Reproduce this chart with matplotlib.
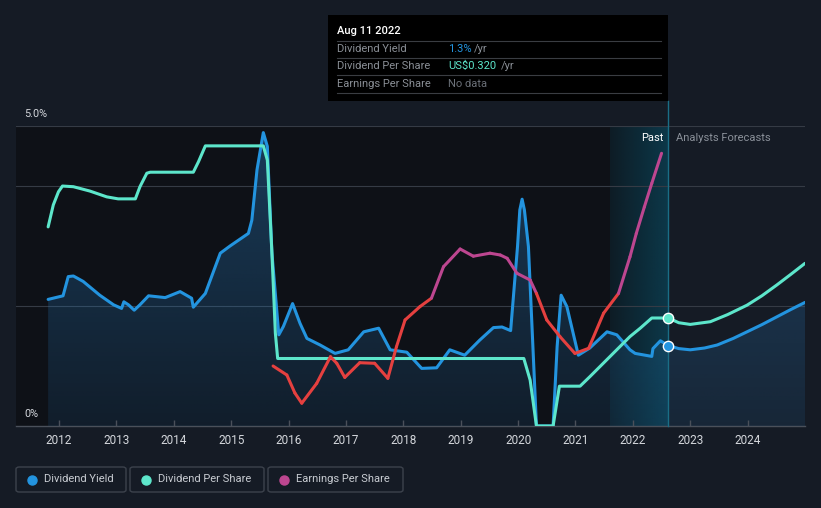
import numpy as np
import matplotlib
matplotlib.use("Agg")
import matplotlib.pyplot as plt
from matplotlib.patches import Rectangle, FancyBboxPatch
from matplotlib.collections import LineCollection
from matplotlib.colors import to_rgb

plt.rcParams['font.family'] = ['Roboto', 'DejaVu Sans']

# ---- data ----
yield_years = [2011.81, 2012.07, 2012.16, 2012.25, 2012.42, 2012.71, 2012.95, 2013.09, 2013.13,
               2013.21, 2013.31, 2013.41, 2013.56, 2013.85, 2014.11, 2014.31, 2014.34, 2014.55,
               2014.81, 2014.98, 2015.30, 2015.36, 2015.45, 2015.56, 2015.63, 2015.71, 2015.83,
               2015.91, 2016.07, 2016.2, 2016.32, 2016.55, 2016.81, 2017.04, 2017.31, 2017.57,
               2017.77, 2018.06, 2018.32, 2018.58, 2018.81, 2019.07, 2019.33, 2019.57, 2019.72,
               2019.87, 2019.99, 2020.03, 2020.07, 2020.11, 2020.18, 2020.32, 2020.61, 2020.68,
               2020.75, 2020.85, 2021.05, 2021.25, 2021.55, 2021.72, 2021.95, 2022.04, 2022.33,
               2022.35, 2022.48, 2022.62]
yield_vals = [2.11, 2.17, 2.49, 2.50, 2.41, 2.18, 2.02, 1.96, 2.07,
              2.02, 1.93, 2.02, 2.17, 2.14, 2.24, 2.13, 1.98, 2.21,
              2.88, 3.00, 3.21, 3.43, 4.27, 4.89, 4.66, 2.88, 1.52,
              1.66, 2.04, 1.71, 1.46, 1.35, 1.21, 1.27, 1.57, 1.63,
              1.27, 1.23, 0.96, 0.97, 1.27, 1.18, 1.43, 1.64, 1.65,
              1.59, 2.99, 3.60, 3.78, 3.60, 2.99, 0.0, 0.0, 1.32,
              2.18, 1.99, 1.18, 1.30, 1.57, 1.52, 1.27, 1.21, 1.16,
              1.29, 1.42, 1.34]
yield_fc_years = [2022.62, 2022.8, 2023.0, 2023.25, 2023.47, 2023.75, 2023.99, 2024.25, 2024.51, 2024.75, 2025.0]
yield_fc_vals = [1.34, 1.29, 1.27, 1.30, 1.35, 1.46, 1.57, 1.69, 1.82, 1.94, 2.06]

dps_years = [2011.81, 2011.90, 2011.99, 2012.06, 2012.25, 2012.54, 2012.83, 2013.03, 2013.33,
             2013.41, 2013.53, 2013.59, 2014.34, 2014.43, 2014.55, 2015.56, 2015.63, 2015.71,
             2015.77, 2015.81, 2020.10, 2020.21, 2020.32, 2020.61, 2020.72, 2021.08, 2021.25,
             2021.95, 2022.13, 2022.33, 2022.62]
dps_vals = [0.59, 0.655, 0.694, 0.711, 0.709, 0.696, 0.679, 0.673, 0.673,
            0.709, 0.749, 0.752, 0.752, 0.783, 0.83, 0.83, 0.788, 0.512,
            0.275, 0.20, 0.20, 0.136, 0.0, 0.0, 0.118, 0.118, 0.146,
            0.265, 0.29, 0.32, 0.32]
dps_fc_years = [2022.62, 2022.8, 2023.0, 2023.35, 2023.65, 2023.99, 2024.25, 2024.51, 2024.75, 2025.0]
dps_fc_vals = [0.32, 0.306, 0.301, 0.309, 0.33, 0.358, 0.386, 0.418, 0.449, 0.482]

eps_years = [2015.73, 2015.97, 2016.11, 2016.23, 2016.49, 2016.73, 2016.84, 2016.98, 2017.24,
             2017.50, 2017.73, 2017.88, 2018.03, 2018.29, 2018.49, 2018.70, 2018.99, 2019.22,
             2019.51, 2019.69, 2019.81, 2019.98, 2020.21, 2020.32, 2020.50, 2020.73, 2020.99,
             2021.23, 2021.49, 2021.75, 2021.95, 2022.06, 2022.20, 2022.33, 2022.50]
eps_vals = [0.100, 0.085, 0.055, 0.038, 0.071, 0.1155, 0.1045, 0.081, 0.1055,
            0.1045, 0.0795, 0.132, 0.1767, 0.199, 0.213, 0.2655, 0.295, 0.283,
            0.288, 0.285, 0.2795, 0.2545, 0.2433, 0.221, 0.1767, 0.149, 0.121,
            0.1295, 0.188, 0.221, 0.282, 0.321, 0.365, 0.4045, 0.4545]
# EPS line colour flips at these dates (starts red)
eps_color_breaks = [2018.49, 2020.32, 2021.75]

x_ticks = [2012, 2013, 2014, 2015, 2016, 2017, 2018, 2019, 2020, 2021, 2022, 2023, 2024]
today = 2022.62
band_start = 2021.61

# ---- colours ----
BG = '#151b25'
PAST_BG = '#0e1117'
BLUE = '#2394df'
TEAL = '#5de6cb'
RED = '#e5403f'
MAGENTA = '#bd4690'

W, H = 821, 508
fig = plt.figure(figsize=(W / 100, H / 100), dpi=100, facecolor=BG)
L, R, T, B = 16, 805, 126, 426
ax = fig.add_axes([L / W, 1 - B / H, (R - L) / W, (B - T) / H])
ax.set_facecolor(BG)
xmin, xmax = 2011.25, 2025.0

ax_dps = ax.twinx()
ax_eps = ax.twinx()
for a in (ax, ax_dps, ax_eps):
    for s in a.spines.values():
        s.set_visible(False)
    a.set_yticks([])

# backgrounds
ax.axvspan(xmin, today, color=PAST_BG, zorder=0, lw=0)
band = np.zeros((2, 64, 4))
band[..., :3] = to_rgb('#0c3f52')
band[..., 3] = np.linspace(0.25, 0.85, 64)
ax.imshow(band, extent=[band_start, today, 0, 5], aspect='auto', zorder=0.5, interpolation='bilinear')

# grid lines
for g in (5, 4, 2):
    ax.axhline(g, color='#353b45', lw=0.8, zorder=1)
ax.axhline(0, color='#4a505a', lw=1.0, zorder=1, clip_on=False)

# yield area with vertical gradient
all_y_years = yield_years + yield_fc_years[1:]
all_y_vals = yield_vals + yield_fc_vals[1:]
poly = ax.fill_between(all_y_years, all_y_vals, 0, facecolor='none', lw=0)
grad = np.zeros((64, 2, 4))
grad[..., :3] = to_rgb('#2a7fc4')
grad[..., 3] = np.linspace(0.38, 0.12, 64)[:, None]
im = ax.imshow(grad, extent=[all_y_years[0], all_y_years[-1], 0, max(all_y_vals)],
               aspect='auto', zorder=1.5, interpolation='bilinear')
im.set_clip_path(poly.get_paths()[0], transform=ax.transData)

# lines
ax.plot(yield_years, yield_vals, color=BLUE, lw=2.2, zorder=4, solid_capstyle='round', solid_joinstyle='round')
ax.plot(yield_fc_years, yield_fc_vals, color=BLUE, lw=2.2, zorder=4, solid_capstyle='round')
ax_dps.plot(dps_years, dps_vals, color=TEAL, lw=2.2, zorder=5, solid_capstyle='round', solid_joinstyle='round')
ax_dps.plot(dps_fc_years, dps_fc_vals, color=TEAL, lw=2.2, zorder=5, solid_capstyle='round')

segs, cols = [], []
for i in range(len(eps_years) - 1):
    mid = (eps_years[i] + eps_years[i + 1]) / 2
    flips = sum(1 for b in eps_color_breaks if mid > b)
    segs.append([(eps_years[i], eps_vals[i]), (eps_years[i + 1], eps_vals[i + 1])])
    cols.append(RED if flips % 2 == 0 else MAGENTA)
lc = LineCollection(segs, colors=cols, linewidths=2.2, capstyle='round', joinstyle='round', zorder=3)
ax_eps.add_collection(lc)

# markers at today
ax_dps.scatter([dps_years[-1]], [dps_vals[-1]], s=55, color=TEAL, edgecolor='white', lw=1, zorder=8)
ax.scatter([yield_years[-1]], [yield_vals[-1]], s=55, color=BLUE, edgecolor='white', lw=1, zorder=8)

for a in (ax, ax_dps, ax_eps):
    a.set_xlim(xmin, xmax)
ax.set_ylim(0, 5)
ax_dps.set_ylim(0, 300 / 337.5)
ax_eps.set_ylim(0, 0.5)

# vertical "today" line up to the tooltip
ax.axvline(today, ymin=0, ymax=(B - 101) / (B - T), color='#1a6e86', lw=1, zorder=2, clip_on=False)

# x ticks
ax.set_xticks(x_ticks)
ax.set_xticklabels([str(t) for t in x_ticks])
ax.tick_params(axis='x', colors='#4a505a', labelcolor='#d4d7dc', labelsize=8.5, length=4, width=1,
               direction='in', pad=6)
ax_dps.tick_params(axis='x', bottom=False, labelbottom=False)
ax_eps.tick_params(axis='x', bottom=False, labelbottom=False)

def fx(px):
    return px / W

def fy(py):
    return 1 - py / H

fig.text(fx(24), fy(114), '5.0%', color='#d4d7dc', fontsize=7.8, va='center', ha='left')
fig.text(fx(24), fy(414), '0%', color='#d4d7dc', fontsize=7.8, va='center', ha='left')
fig.text(fx(663), fy(138), 'Past', color='white', fontsize=8, va='center', ha='right')
fig.text(fx(676), fy(138), 'Analysts Forecasts', color='#8a9099', fontsize=8, va='center', ha='left')

# tooltip
fig.patches.append(Rectangle((fx(328), fy(101)), (668 - 328) / W, (101 - 15) / H,
                             transform=fig.transFigure, facecolor='black', edgecolor='none', zorder=10))
fig.text(fx(337), fy(31), 'Aug 11 2022', color='white', fontsize=8, va='center', ha='left',
         fontweight='medium', zorder=11)
for ly in (41, 58, 75, 93):
    fig.add_artist(plt.Line2D([fx(337), fx(661)], [fy(ly), fy(ly)], color='#3a3d42', lw=0.8,
                              transform=fig.transFigure, zorder=11))
rows = [('Dividend Yield', '1.3%', BLUE, '/yr', 49, 474),
        ('Dividend Per Share', 'US$0.320', TEAL, '/yr', 66, 501),
        ('Earnings Per Share', 'No data', '#6b7078', '', 84, 0)]
for label, val, c, unit, ry, ux in rows:
    fig.text(fx(337), fy(ry), label, color='#8a8f96', fontsize=8, va='center', ha='left', zorder=11)
    fig.text(fx(448), fy(ry), val, color=c, fontsize=8, va='center', ha='left', zorder=11)
    if unit:
        fig.text(fx(ux), fy(ry), unit, color='#8a8f96', fontsize=8, va='center', ha='left', zorder=11)

# legend boxes
legend_items = [('Dividend Yield', BLUE, 16, 126), ('Dividend Per Share', TEAL, 130, 264),
                ('Earnings Per Share', MAGENTA, 268, 403)]
for name, c, x0, x1 in legend_items:
    fig.patches.append(FancyBboxPatch((fx(x0), fy(492)), (x1 - x0) / W, 25 / H,
                                      boxstyle='round,pad=0,rounding_size=0.004',
                                      transform=fig.transFigure, facecolor='none',
                                      edgecolor='#3c424c', lw=1))
    fig.add_artist(plt.Line2D([fx(x0 + 16)], [fy(479.5)], marker='o', markersize=6.5, color=c,
                              transform=fig.transFigure, lw=0))
    fig.text(fx(x0 + 28), fy(479.5), name, color='#c8ccd2', fontsize=8, va='center', ha='left')

fig.savefig('out.png', dpi=100, facecolor=BG)
